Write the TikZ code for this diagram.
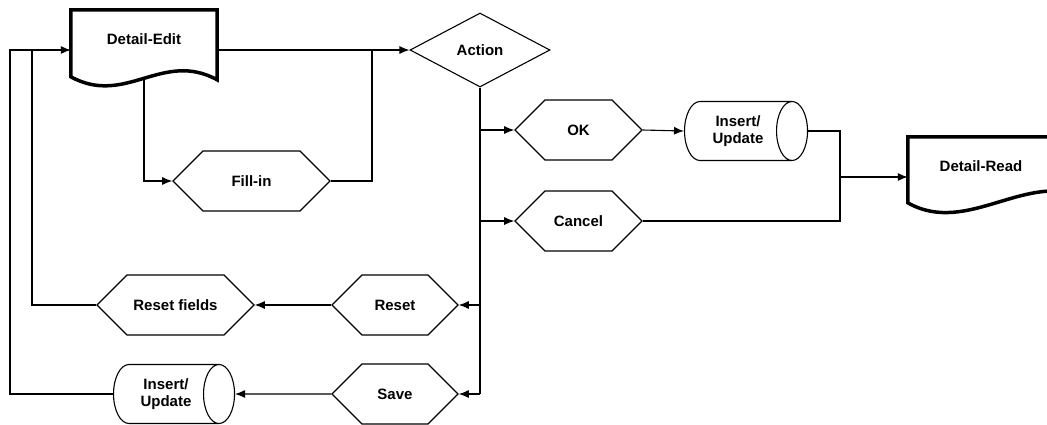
\documentclass[tikz,border=0pt]{standalone}
\usepackage{fontspec}
\setmainfont{Liberation Sans}
\usetikzlibrary{shapes.geometric,shapes.symbols,arrows.meta,calc}

\begin{document}
\begin{tikzpicture}[
        x=1pt, y=1pt,
        every node/.style={font=\bfseries\fontsize{15}{17}\selectfont, align=center},
        link/.style={line width=1.1pt},
        flow/.style={link, -{Latex[length=10pt,width=8pt]}},
        doc/.style={minimum width=146pt, minimum height=80pt, inner sep=0pt,
            text height=10pt, text depth=22pt},
        doc line/.style={line width=3.5pt, line join=miter},
        hexa/.style={draw, line width=1.1pt, signal, signal to=east and west,
            signal pointer angle=90, minimum height=60pt, inner sep=0pt},
        store/.style={draw, line width=1.1pt, cylinder, aspect=1.0,
            minimum width=59pt, inner sep=0pt},
        decide/.style={draw, line width=1.1pt, diamond, minimum width=140pt,
            minimum height=74pt, inner sep=0pt},
    ]
    \useasboundingbox (0,0) rectangle (1047,-424);

    % documents
    \node[doc] (de) at (144,-50) {Detail-Edit};
    \draw[doc line] (de.north west) -- (de.north east) -- ++(0,-70)
        .. controls +(-55,30) and +(55,-30) .. ($(de.north west)+(0,-67)$)
        coordinate[pos=.5] (deout) -- cycle;

    \node[doc] (dr) at (981,-177) {Detail-Read};
    \draw[doc line] (dr.north west) -- ++(180,0) -- ++(0,-62)
        .. controls +(-60,30) and +(60,-34) .. ($(dr.north west)+(0,-66)$) -- cycle;

    % decision
    \node[decide] (act) at (480,-50) {Action};

    % hexagons
    \node[hexa, minimum width=157pt] (fill) at (251.5,-181) {Fill-in};
    \node[hexa, minimum width=127pt] (ok) at (578.5,-130) {OK};
    \node[hexa, minimum width=127pt] (cancel) at (578.5,-221) {Cancel};
    \node[hexa, minimum width=126pt] (reset) at (395,-305) {Reset};
    \node[hexa, minimum width=157pt] (rf) at (175.5,-305) {Reset fields};
    \node[hexa, minimum width=126pt] (save) at (395,-394) {Save};

    % stores
    \node[store, minimum height=123pt] (ins1) at (738,-131) {Insert/\\Update};
    \node[store, minimum height=121pt] (ins2) at (166,-394) {Insert/\\Update};

    % links
    \coordinate (loopa) at (10,-50);
    \coordinate (loopb) at (32,-50);
    \coordinate (joina) at (372,-50);
    \coordinate (joinb) at (840,-177);

    \draw[flow] (de.east) -- (act.west);
    \draw[link] (fill.east) -| (joina);
    \draw[flow] (deout) |- (fill.west);

    \draw[link] (act.south) -- (act.south |- save.east);
    \foreach \n in {ok, cancel}
        \draw[flow] (act.south |- \n.west) -- (\n.west);
    \foreach \n in {reset, save}
        \draw[flow] (act.south |- \n.east) -- (\n.east);

    \draw[flow] (ok.east) -- (ins1.west);
    \draw[link] (ins1.east) -| (joinb);
    \draw[link] (cancel.east) -| (joinb);
    \draw[flow] (joinb) -- (dr.west);

    \draw[flow] (reset.west) -- (rf.east);
    \draw[flow] (save.west) -- (ins2.east);
    \draw[link] (rf.west) -| (loopb);
    \draw[flow] (ins2.west) -| (loopa) -- (de.west);
\end{tikzpicture}
\end{document}
